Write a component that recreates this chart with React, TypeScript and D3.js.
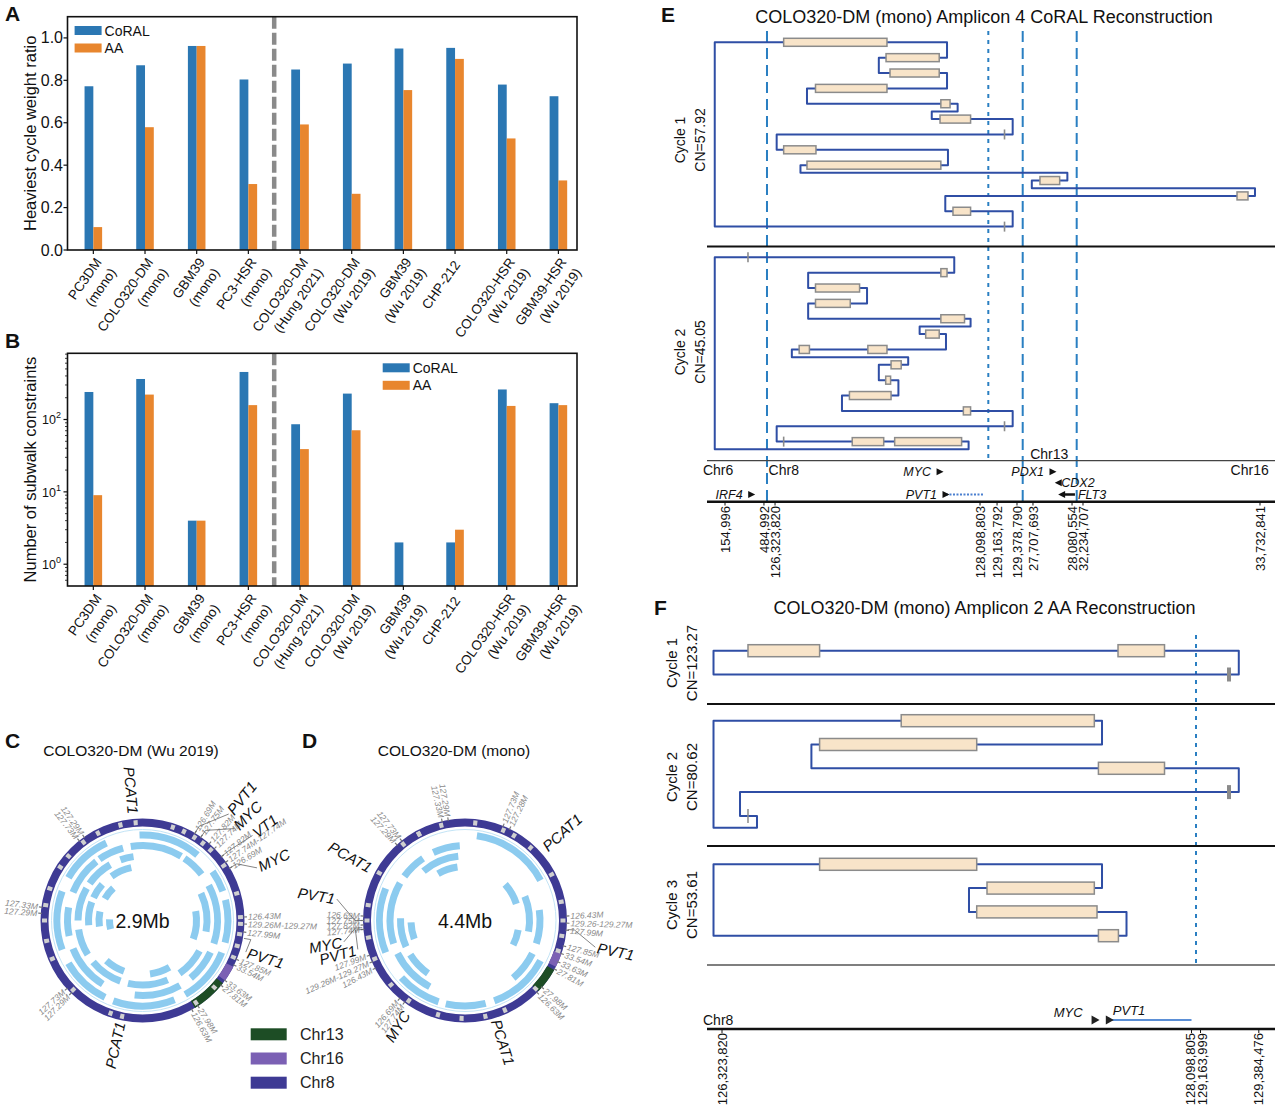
import React from "react";
import * as d3 from "d3";

const FONT = "'Liberation Sans', Arial, Helvetica, sans-serif";
const CORAL_BLUE = "#2b77b3";
const AA_ORANGE = "#e8862e";
const ARC_BLUE = "#8ccbef";
const CHR8_COL = "#3e3a94";
const CHR16_COL = "#7b60b4";
const CHR13_COL = "#1d4d25";
const PATH_BLUE = "#2f4ea5";
const BOX_FILL = "#f8e4c9";
const GUIDE_BLUE = "#2a7fc2";

// ---------------- Panels A & B data ----------------
const SAMPLE_NAMES = ["PC3DM", "COLO320-DM", "GBM39", "PC3-HSR", "COLO320-DM", "COLO320-DM", "GBM39", "CHP-212", "COLO320-HSR", "GBM39-HSR"];
const SAMPLE_SOURCES = ["(mono)", "(mono)", "(mono)", "(mono)", "(Hung 2021)", "(Wu 2019)", "(Wu 2019)", "", "(Wu 2019)", "(Wu 2019)"];
const RATIO_CORAL = [0.772, 0.871, 0.962, 0.804, 0.851, 0.879, 0.95, 0.953, 0.78, 0.725];
const RATIO_AA = [0.108, 0.579, 0.962, 0.311, 0.592, 0.265, 0.754, 0.901, 0.526, 0.328];
const SUBWALK_CORAL = [240, 363, 4, 454, 86, 228, 2, 2, 260, 168];
const SUBWALK_AA = [9, 221, 4, 158, 39, 71, 0, 3, 154, 158];
const RATIO_TICKS = [0, 0.2, 0.4, 0.6, 0.8, 1.0];
const SUBWALK_TICKS = [1, 10, 100];
const SERIES = ["CoRAL", "AA"];
const SPLIT_POS = 3.5;

// ---------------- Panels C & D data ----------------
const TRACK_RADII = [[82, 89], [71.5, 78.5], [61, 68], [50.5, 57.5], [40, 47], [29.5, 36.5]];
const C_ARCS = [
  [0, -2, 40], [0, 55, 70], [0, 76, 105], [0, 112, 150], [0, 158, 200], [0, 206, 240], [0, 250, 290], [0, 300, 335],
  [1, -9, 31], [1, 34, 52], [1, 62, 108], [1, 115, 140], [1, 150, 186], [1, 212, 248], [1, 258, 280], [1, 292, 322], [1, 325, 345],
  [2, -20, -8], [2, 65, 100], [2, 118, 145], [2, 157, 193], [2, 200, 230], [2, 238, 262], [2, 270, 300], [2, 305, 330],
  [3, -35, -12], [3, 80, 110], [3, 150, 172], [3, 200, 222], [3, 265, 290], [3, 295, 312],
  [4, 262, 282], [4, 300, 318],
  [5, 255, 272],
];
const C_CHR16 = [117, 126];
const C_CHR13 = [128, 149];
const C_BREAKS = [-37, -27, -13, -4, 18, 25, 32, 38, 44, 56, 74, 88, 92, 98, 105, 112, 133, 147, 192, 199, 225, 247, 258, 270, 279, 289, 303, 311];
const C_RING_LABELS = [
  [325, "127.29M"], [321.5, "127.73M"], [31, "126.69M"], [35, "127.75M"], [41, "127.82M"], [45, "127.74M"],
  [51, "127.82M"], [55, "127.74M-127.74M"], [59, "126.69M"], [88, "126.43M"], [92, "129.26M-129.27M"], [96.5, "127.99M"],
  [112.5, "127.85M"], [116, "33.54M"], [126, "33.63M"], [129.5, "27.81M"], [147, "27.98M"], [151, "126.63M"],
  [228, "127.73M"], [224.5, "127.29M"], [277.5, "127.33M"], [274, "127.29M"],
];
const C_GENES = [[-5, 107, "PCAT1"], [39, 139, "PVT1"], [45, 132, "MYC"], [52.3, 141, "VT1"], [65.3, 128, "MYC"], [107, 110, "PVT1"], [192.4, 104, "PCAT1"]];
const C_LEADERS = [[31, 39, 139], [35, 45, 132], [51, 52.3, 141], [59, 65.3, 128], [100, 107, 110]];

const D_ARCS = [
  [0, 8, 62], [0, 118, 160], [0, 166, 193], [0, 198, 228], [0, 248, 292],
  [1, -25, -4], [1, 82, 108], [1, 116, 140], [1, 208, 244], [1, 252, 300], [1, 306, 326],
  [2, -40, -6], [2, 68, 100], [2, 215, 238], [2, 246, 272],
  [3, -30, -8], [3, 48, 72], [3, 100, 117], [3, 250, 268],
];
const D_CHR16 = [109, 117];
const D_CHR13 = [119, 134];
const D_BREAKS = [-28, -14, 6, 23, 30, 42, 62, 79, 90, 99, 108, 134, 156, 168, 182, 196, 215, 229, 247, 260, 270, 279, 299, 321, 332];
const D_RING_LABELS = [
  [350.5, "127.29M"], [347, "127.33M"], [321.5, "127.73M"], [318, "127.29M"], [22, "127.73M"], [26, "127.28M"],
  [87.5, "126.43M"], [91.5, "129.26-129.27M"], [95.5, "127.99M"], [104.5, "127.85M"], [109, "33.54M"], [114, "33.63M"],
  [118.5, "27.81M"], [131, "27.98M"], [135, "126.63M"], [220, "126.69M"], [216.5, "127.74M"],
  [250, "127.99M"], [246, "129.26M-129.27M"], [242, "126.43M"],
  [272.5, "126.69M"], [270, "127.75M"], [267.5, "127.82M"], [265, "127.74M"],
];
const D_GENES = [[47.8, 107.5, "PCAT1"], [299, 107.5, "PCAT1"], [279.5, 132, "PVT1"], [260, 125, "MYC"], [254.9, 113, "PVT1"], [212.5, 109, "MYC"], [162.7, 104, "PCAT1"], [101.6, 135, "PVT1"]];
const D_LEADERS = [[270, 279.5, 132], [266, 260, 125], [265, 254.9, 113], [95, 101.6, 135]];
const CHR_LEGEND = [["Chr13", CHR13_COL], ["Chr16", CHR16_COL], ["Chr8", CHR8_COL]];

// ---------------- Panel E data (positions in Mb along the amplicon layout) ----------------
const E_LAYOUT_MB = 4.637;
const E_TICK_POS = [0.043, 0.377, 0.472, 2.23, 2.376, 2.547, 2.684, 3.019, 3.113, 4.631];
const E_TICK_LABELS = ["154,996", "484,992", "126,323,820", "128,098,803", "129,163,792", "129,378,790", "27,707,693", "28,080,554", "32,234,707", "33,732,841"];
const E_BREAKS_DASHED = [0.403, 2.596, 3.059];
const E_BREAKS_DOTTED = [2.301];
const E_CHR_LABELS = [["Chr6", -0.146, "start", 0], ["Chr8", 0.417, "start", 0], ["Chr13", 2.66, "start", 1], ["Chr16", 4.706, "end", 0]];
const E_GENES = [
  ["MYC", 1.887, 1.887, 1, 0], ["PDX1", 2.856, 2.856, 1, 0], ["CDX2", 2.901, 2.901, -1, 1],
  ["IRF4", 0.272, 0.272, 1, 2], ["PVT1", 1.938, 2.258, 1, 2], ["FLT3", 2.93, 3.044, -1, 2],
];
const E_C1_PATH = [[-0.045, 0], [1.947, 0], [1.947, 2], [1.362, 2], [1.362, 4], [1.947, 4], [1.947, 6], [0.746, 6], [0.746, 8], [2.038, 8], [2.038, 9], [1.816, 9], [1.816, 10], [2.51, 10], [2.51, 12], [0.486, 12], [0.486, 14], [1.955, 14], [1.955, 16], [0.69, 16], [0.69, 17], [2.979, 17], [2.979, 18], [2.674, 18], [2.674, 19], [4.588, 19], [4.588, 20], [1.932, 20], [1.932, 22], [2.51, 22], [2.51, 24], [-0.045, 24]];
const E_C1_BOXES = [[0, 0.546, 1.432], [2, 1.424, 1.88], [4, 1.458, 1.88], [6, 0.819, 1.432], [8, 1.894, 1.973], [10, 1.887, 2.149], [14, 0.546, 0.823], [16, 0.746, 1.894], [18, 2.744, 2.913], [20, 4.434, 4.528], [22, 1.998, 2.149]];
const E_C1_MARKS = [[12, 2.44], [24, 2.44]];
const E_C2_PATH = [[-0.045, 0], [2.009, 0], [2.009, 2], [0.756, 2], [0.756, 4], [1.261, 4], [1.261, 6], [0.756, 6], [0.756, 8], [2.149, 8], [2.149, 9], [1.712, 9], [1.712, 10], [1.938, 10], [1.938, 12], [0.616, 12], [0.616, 13], [1.614, 13], [1.614, 14], [1.362, 14], [1.362, 16], [1.53, 16], [1.53, 18], [1.046, 18], [1.046, 20], [2.51, 20], [2.51, 22], [0.486, 22], [0.486, 24], [2.132, 24], [2.132, 25], [-0.045, 25]];
const E_C2_BOXES = [[2, 1.894, 1.947], [4, 0.819, 1.197], [6, 0.819, 1.117], [8, 1.894, 2.097], [10, 1.764, 1.88], [12, 1.268, 1.432], [12, 0.679, 0.767], [14, 1.467, 1.554], [16, 1.421, 1.463], [18, 1.11, 1.467], [20, 2.087, 2.149], [24, 1.134, 1.404], [24, 1.498, 2.072]];
const E_C2_MARKS = [[0, 0.24], [22, 2.44], [24, 0.546]];
const E_CYCLES = [["Cycle 1", "CN=57.92"], ["Cycle 2", "CN=45.05"]];

// ---------------- Panel F data (chr8 coordinates, Mb) ----------------
const F_DOMAIN = [126.32382, 128.098805, 129.163999, 129.384476];
const F_TICK_LABELS = ["126,323,820", "128,098,805", "129,163,999", "129,384,476"];
const F_C1_PATH = [[126.2917, 0], [129.3088, 0], [129.3088, 1], [126.2917, 1]];
const F_C1_BOXES = [[0, 126.4221, 126.6928], [0, 127.821, 127.9968]];
const F_C1_MARKS = [[1, 129.2718, 4]];
const F_C2_PATH = [[126.2917, 0], [127.7605, 0], [127.7605, 1], [126.6618, 1], [126.6618, 2], [129.3088, 2], [129.3088, 3], [126.3919, 3], [126.3919, 4], [126.4561, 4], [126.4561, 4.5], [126.2917, 4.5]];
const F_C2_BOXES = [[0, 127.0013, 127.7314], [1, 126.6928, 127.2868], [2, 127.7469, 127.9968]];
const F_C2_MARKS = [[3, 129.2718, 4], [4, 126.4221, 1.5]];
const F_C3_PATH = [[126.2917, 0], [127.7605, 0], [127.7605, 1], [127.2576, 1], [127.2576, 2], [127.8531, 2], [127.8531, 3], [126.2917, 3]];
const F_C3_BOXES = [[0, 126.6928, 127.2868], [1, 127.3257, 127.7314], [2, 127.2868, 127.7416], [3, 127.7469, 127.8225]];
const F_C3_MARKS = [];
const F_CYCLES = [["Cycle 1", "CN=123.27"], ["Cycle 2", "CN=80.62"], ["Cycle 3", "CN=53.61"]];
const F_GENES = [["MYC", 127.736, 127.736], ["PVT1", 127.79, 128.0988]];

// ---------------- helpers ----------------
const rad = (d) => (d * Math.PI) / 180;
const polar = (cx, cy, deg, r) => [cx + r * Math.sin(rad(deg)), cy - r * Math.cos(rad(deg))];

function RadialText({ cx, cy, angle, r, children, ...rest }) {
  const a = ((angle % 360) + 360) % 360;
  const right = a < 180;
  const tr = right
    ? `translate(${cx},${cy}) rotate(${a - 90}) translate(${r},0)`
    : `translate(${cx},${cy}) rotate(${a + 90}) translate(${-r},0)`;
  return (
    <text transform={tr} textAnchor={right ? "start" : "end"} dominantBaseline="central" {...rest}>
      {children}
    </text>
  );
}

function XLabels({ x, axisY }) {
  return (
    <g>
      {SAMPLE_NAMES.map((n, i) => {
        const two = SAMPLE_SOURCES[i] !== "";
        return (
          <g key={i} transform={`translate(${x(i)},${axisY + 1}) rotate(-55)`}>
            <text textAnchor="end" fontSize={13.5} fill="#111">
              <tspan x={two ? -4 : -8} y={two ? 13.5 : 12.5}>{n}</tspan>
              {two && <tspan x={-4} y={31.5}>{SAMPLE_SOURCES[i]}</tspan>}
            </text>
          </g>
        );
      })}
    </g>
  );
}

function BarPanel({ top, bottom, y, coral, aa, yTicks, minorTicks, tickLabel, legendX, legendY, ylabel }) {
  const left = 67.5, right = 577;
  const x = d3.scaleLinear().domain([-0.5, 9.36]).range([left, right]);
  const bw = 0.17;
  return (
    <g>
      {coral.map((v, i) => v > 0 && (
        <rect key={"c" + i} x={x(i - bw)} width={x(i) - x(i - bw)} y={y(v)} height={bottom - y(v)} fill={CORAL_BLUE} />
      ))}
      {aa.map((v, i) => v > 0 && (
        <rect key={"a" + i} x={x(i)} width={x(i + bw) - x(i)} y={y(v)} height={bottom - y(v)} fill={AA_ORANGE} />
      ))}
      <line x1={x(SPLIT_POS)} x2={x(SPLIT_POS)} y1={top} y2={bottom} stroke="#8a8a8a" strokeWidth={4.5} strokeDasharray="12,4" />
      <rect x={left} y={top} width={right - left} height={bottom - top} fill="none" stroke="#111" strokeWidth={1.6} />
      {yTicks.map((t, i) => (
        <g key={i}>
          <line x1={left - 4} x2={left} y1={y(t)} y2={y(t)} stroke="#111" strokeWidth={1.2} />
          {tickLabel(t, y(t), i)}
        </g>
      ))}
      {minorTicks.map((t, i) => (
        <line key={"m" + i} x1={left - 2.5} x2={left} y1={y(t)} y2={y(t)} stroke="#111" strokeWidth={0.8} />
      ))}
      {SAMPLE_NAMES.map((_, i) => (
        <line key={"x" + i} x1={x(i)} x2={x(i)} y1={bottom} y2={bottom + 4} stroke="#111" strokeWidth={1.2} />
      ))}
      <XLabels x={x} axisY={bottom} />
      <text transform={`translate(36,${(top + bottom) / 2}) rotate(-90)`} textAnchor="middle" fontSize={16.5} fill="#111">{ylabel}</text>
      {SERIES.map((s, i) => (
        <g key={s}>
          <rect x={legendX} y={legendY + i * 17.5} width={27} height={9} fill={i === 0 ? CORAL_BLUE : AA_ORANGE} />
          <text x={legendX + 30} y={legendY + i * 17.5 + 9.5} fontSize={14} fill="#111">{s}</text>
        </g>
      ))}
    </g>
  );
}

function Circos({ cx, cy, arcs, chr16, chr13, breaks, ringLabels, genes, leaders, centerText, title, titleX }) {
  const arc = d3.arc();
  const A = (r0, r1, a0, a1) => arc({ innerRadius: r0, outerRadius: r1, startAngle: rad(a0), endAngle: rad(a1) });
  return (
    <g>
      <text x={titleX} y={756} textAnchor="middle" fontSize={15.5} fill="#111">{title}</text>
      <g transform={`translate(${cx},${cy})`}>
        <path d={A(94, 102, 0, 360)} fill={CHR8_COL} />
        <path d={A(94, 102, chr16[0], chr16[1])} fill={CHR16_COL} />
        <path d={A(94, 102, chr13[0], chr13[1])} fill={CHR13_COL} />
        {breaks.map((b, i) => (
          <path key={i} d={A(95.5, 100.5, b - 1.2, b + 1.2)} fill="#cfcfcf" />
        ))}
        <circle r={91} fill="none" stroke="#c3e4f6" strokeWidth={1} />
        {arcs.map(([t, a0, a1], i) => (
          <path key={i} d={A(TRACK_RADII[t][0], TRACK_RADII[t][1], a0, a1)} fill={ARC_BLUE} />
        ))}
      </g>
      {ringLabels.map(([a, t], i) => {
        const [x1, y1] = polar(cx, cy, a, 101);
        const [x2, y2] = polar(cx, cy, a, 104.5);
        return (
          <g key={i}>
            <line x1={x1} y1={y1} x2={x2} y2={y2} stroke="#777" strokeWidth={1.2} />
            <RadialText cx={cx} cy={cy} angle={a} r={105.5} fontSize={8.5} fill="#8a8a8a" fontStyle="italic">{t}</RadialText>
          </g>
        );
      })}
      {leaders.map(([ra, la, lr], i) => {
        const p0 = polar(cx, cy, ra, 103);
        const p1 = polar(cx, cy, ra, 110);
        const p2 = polar(cx, cy, la, lr - 2);
        return <polyline key={i} points={[p0, p1, p2].map((p) => p.join(",")).join(" ")} fill="none" stroke="#666" strokeWidth={0.8} />;
      })}
      {genes.map(([a, r, t], i) => (
        <RadialText key={i} cx={cx} cy={cy} angle={a} r={r} fontSize={15} fontStyle="italic" fill="#111">{t}</RadialText>
      ))}
      <text x={cx} y={cy + 7.5} textAnchor="middle" fontSize={19.5} fill="#111">{centerText}</text>
    </g>
  );
}

function CycleDiagram({ xs, top, step, path, boxes, marks, boxH, markH }) {
  const ry = (r) => top + r * step;
  const line = d3.line().x((d) => xs(d[0])).y((d) => ry(d[1]));
  return (
    <g>
      <path d={line(path) + "Z"} fill="none" stroke={PATH_BLUE} strokeWidth={2} strokeLinejoin="round" />
      {boxes.map(([r, s, e], i) => (
        <rect key={i} x={xs(s)} y={ry(r) - boxH / 2} width={xs(e) - xs(s)} height={boxH} fill={BOX_FILL} stroke="#8b8b8b" strokeWidth={1.5} />
      ))}
      {marks.map(([r, p, w], i) => (
        <line key={"m" + i} x1={xs(p)} x2={xs(p)} y1={ry(r) - markH / 2} y2={ry(r) + markH / 2} stroke="#8b8b8b" strokeWidth={w || 1.6} />
      ))}
    </g>
  );
}

function CycleLabel({ x, cy, lines, size }) {
  return (
    <g>
      {lines.map((t, i) => (
        <text key={i} transform={`translate(${x + i * 19.5},${cy}) rotate(-90)`} textAnchor="middle" fontSize={size} fill="#111">{t}</text>
      ))}
    </g>
  );
}

function PanelE() {
  const xs = d3.scaleLinear().domain([0, E_LAYOUT_MB]).range([720, 1260.7]);
  const laneY = [471.7, 482.7, 494.5];
  const tri = (x, y, dir, s) => `M${x - dir * s},${y - s} L${x + dir * s},${y} L${x - dir * s},${y + s} Z`;
  return (
    <g>
      <text x={984} y={22.5} textAnchor="middle" fontSize={18} fill="#111">COLO320-DM (mono) Amplicon 4 CoRAL Reconstruction</text>
      {E_BREAKS_DASHED.map((u, i) => (
        <line key={i} x1={xs(u)} x2={xs(u)} y1={31} y2={501.7} stroke={GUIDE_BLUE} strokeWidth={2} strokeDasharray="11,6" />
      ))}
      {E_BREAKS_DOTTED.map((u, i) => (
        <line key={"d" + i} x1={xs(u)} x2={xs(u)} y1={31} y2={460.7} stroke={GUIDE_BLUE} strokeWidth={2} strokeDasharray="4,5" />
      ))}
      <CycleDiagram xs={xs} top={42.3} step={7.68} path={E_C1_PATH} boxes={E_C1_BOXES} marks={E_C1_MARKS} boxH={8} markH={10} />
      <CycleDiagram xs={xs} top={257.3} step={7.68} path={E_C2_PATH} boxes={E_C2_BOXES} marks={E_C2_MARKS} boxH={8} markH={10} />
      <CycleLabel x={685} cy={140} lines={E_CYCLES[0]} size={14} />
      <CycleLabel x={685} cy={352} lines={E_CYCLES[1]} size={14} />
      <line x1={707} x2={1275} y1={246.5} y2={246.5} stroke="#111" strokeWidth={2} />
      <line x1={707} x2={1275} y1={460.7} y2={460.7} stroke="#444" strokeWidth={1.3} />
      <line x1={707} x2={1275} y1={501.7} y2={501.7} stroke="#111" strokeWidth={2.6} />
      {E_CHR_LABELS.map(([t, u, anchor, row]) => (
        <text key={t} x={xs(u)} y={row === 1 ? 459 : 475} textAnchor={anchor} fontSize={14} fill="#111">{t}</text>
      ))}
      {E_GENES.map(([name, u0, u1, strand, lane]) => {
        const y = laneY[lane];
        return (
          <g key={name}>
            {u1 > u0 && (
              name === "PVT1"
                ? <line x1={xs(u0)} x2={xs(u1)} y1={y} y2={y} stroke="#4a7fd0" strokeWidth={1.8} strokeDasharray="2,1.5" />
                : <line x1={xs(u0)} x2={xs(u1)} y1={y} y2={y} stroke="#111" strokeWidth={2.5} />
            )}
            <path d={tri(xs(u0), y, strand, 3.5)} fill="#111" />
            <text x={strand > 0 ? xs(u0) - 9 : xs(u1) + 3} y={y + 4.6} textAnchor={strand > 0 ? "end" : "start"} fontSize={12.5} fontStyle="italic" fill="#111">{name}</text>
          </g>
        );
      })}
      {E_TICK_POS.map((u, i) => (
        <g key={i}>
          <line x1={xs(u)} x2={xs(u)} y1={502} y2={505.5} stroke="#111" strokeWidth={1} />
          <text transform={`translate(${xs(u)},506) rotate(-90)`} textAnchor="end" dy="0.35em" fontSize={13} fill="#111">{E_TICK_LABELS[i]}</text>
        </g>
      ))}
    </g>
  );
}

function PanelF() {
  const xs = d3.scaleLinear().domain(F_DOMAIN).range([722, 1191.5, 1200.5, 1258.8]);
  const gapMid = (F_DOMAIN[1] + F_DOMAIN[2]) / 2;
  const tri = (x, y, s) => `M${x - s},${y - s * 1.15} L${x + s},${y} L${x - s},${y + s * 1.15} Z`;
  const labelNudge = [0, -1.5, 1.5, 0];
  return (
    <g>
      <text x={984.5} y={614} textAnchor="middle" fontSize={18} fill="#111">COLO320-DM (mono) Amplicon 2 AA Reconstruction</text>
      <line x1={xs(gapMid)} x2={xs(gapMid)} y1={635} y2={965} stroke={GUIDE_BLUE} strokeWidth={2} strokeDasharray="4,5" />
      <CycleDiagram xs={xs} top={650.7} step={23.8} path={F_C1_PATH} boxes={F_C1_BOXES} marks={F_C1_MARKS} boxH={12} markH={14} />
      <CycleDiagram xs={xs} top={720.7} step={23.8} path={F_C2_PATH} boxes={F_C2_BOXES} marks={F_C2_MARKS} boxH={12} markH={14} />
      <CycleDiagram xs={xs} top={864.3} step={23.8} path={F_C3_PATH} boxes={F_C3_BOXES} marks={F_C3_MARKS} boxH={12} markH={14} />
      <CycleLabel x={677} cy={663} lines={F_CYCLES[0]} size={15} />
      <CycleLabel x={677} cy={777} lines={F_CYCLES[1]} size={15} />
      <CycleLabel x={677} cy={905} lines={F_CYCLES[2]} size={15} />
      <line x1={707} x2={1275} y1={704} y2={704} stroke="#111" strokeWidth={2} />
      <line x1={707} x2={1275} y1={846} y2={846} stroke="#111" strokeWidth={2} />
      <line x1={707} x2={1275} y1={965} y2={965} stroke="#555" strokeWidth={1.5} />
      <line x1={707} x2={1275} y1={1029} y2={1029} stroke="#111" strokeWidth={2.6} />
      <text x={703} y={1025} fontSize={14} fill="#111">Chr8</text>
      {F_GENES.map(([name, s, e], i) => (
        <g key={name}>
          {e > s && <line x1={xs(s)} x2={xs(e)} y1={1020} y2={1020} stroke="#5b8fd6" strokeWidth={2} />}
          <path d={tri(xs(s), 1020, 4)} fill="#222" />
          <text x={i === 0 ? xs(s) - 13 : xs(s) + 3} y={i === 0 ? 1016.5 : 1015} textAnchor={i === 0 ? "end" : "start"} fontSize={13} fontStyle="italic" fill="#111">{name}</text>
        </g>
      ))}
      {F_DOMAIN.map((v, i) => (
        <g key={i}>
          <line x1={xs(v)} x2={xs(v)} y1={1029} y2={1033} stroke="#111" strokeWidth={1} />
          <text transform={`translate(${xs(v) + labelNudge[i]},1033) rotate(-90)`} textAnchor="end" dy="0.35em" fontSize={13} fill="#111">{F_TICK_LABELS[i]}</text>
        </g>
      ))}
    </g>
  );
}

export default function App() {
  const yA = d3.scaleLinear().domain([0, 1.1]).range([250, 16.7]);
  const yB = d3.scaleLog().domain([0.5, 822]).range([586, 353.3]);
  const minorB = [];
  [0.1, 1, 10, 100].forEach((p) => {
    for (let m = 2; m <= 9; m++) {
      const v = m * p;
      if (v > 0.5 && v < 822) minorB.push(v);
    }
  });
  const letters = [["A", 5, 21], ["B", 5, 348], ["C", 5, 748], ["D", 302, 748], ["E", 661, 22], ["F", 654, 615]];
  return (
    <svg width={1280} height={1112} style={{ position: "absolute", left: 0, top: 0, display: "block" }} fontFamily={FONT}>
      <rect width={1280} height={1112} fill="#fff" />
      {letters.map(([t, x, y]) => (
        <text key={t} x={x} y={y} fontSize={21} fontWeight="bold" fill="#111">{t}</text>
      ))}
      <BarPanel
        top={16.7} bottom={250} y={yA} coral={RATIO_CORAL} aa={RATIO_AA}
        yTicks={RATIO_TICKS} minorTicks={[]}
        tickLabel={(t, yy) => <text x={63} y={yy + 5.5} textAnchor="end" fontSize={16} fill="#111">{t.toFixed(1)}</text>}
        legendX={74.6} legendY={26} ylabel="Heaviest cycle weight ratio"
      />
      <BarPanel
        top={353.3} bottom={586} y={yB} coral={SUBWALK_CORAL} aa={SUBWALK_AA}
        yTicks={SUBWALK_TICKS} minorTicks={minorB}
        tickLabel={(t, yy, i) => (
          <text x={61} y={yy + 5} textAnchor="end" fontSize={12.5} fill="#111">
            10<tspan dy={-6} fontSize={9}>{String(i)}</tspan>
          </text>
        )}
        legendX={382.7} legendY={363.3} ylabel="Number of subwalk constraints"
      />
      <Circos cx={142.5} cy={920.5} arcs={C_ARCS} chr16={C_CHR16} chr13={C_CHR13} breaks={C_BREAKS}
        ringLabels={C_RING_LABELS} genes={C_GENES} leaders={C_LEADERS} centerText="2.9Mb" title="COLO320-DM (Wu 2019)" titleX={131} />
      <Circos cx={465} cy={920.5} arcs={D_ARCS} chr16={D_CHR16} chr13={D_CHR13} breaks={D_BREAKS}
        ringLabels={D_RING_LABELS} genes={D_GENES} leaders={D_LEADERS} centerText="4.4Mb" title="COLO320-DM (mono)" titleX={454} />
      {CHR_LEGEND.map(([t, c], i) => (
        <g key={t}>
          <rect x={250.7} y={1028.3 + i * 24.2} width={36} height={12} fill={c} />
          <text x={300} y={1040 + i * 24.2} fontSize={16} fill="#222">{t}</text>
        </g>
      ))}
      <PanelE />
      <PanelF />
    </svg>
  );
}
